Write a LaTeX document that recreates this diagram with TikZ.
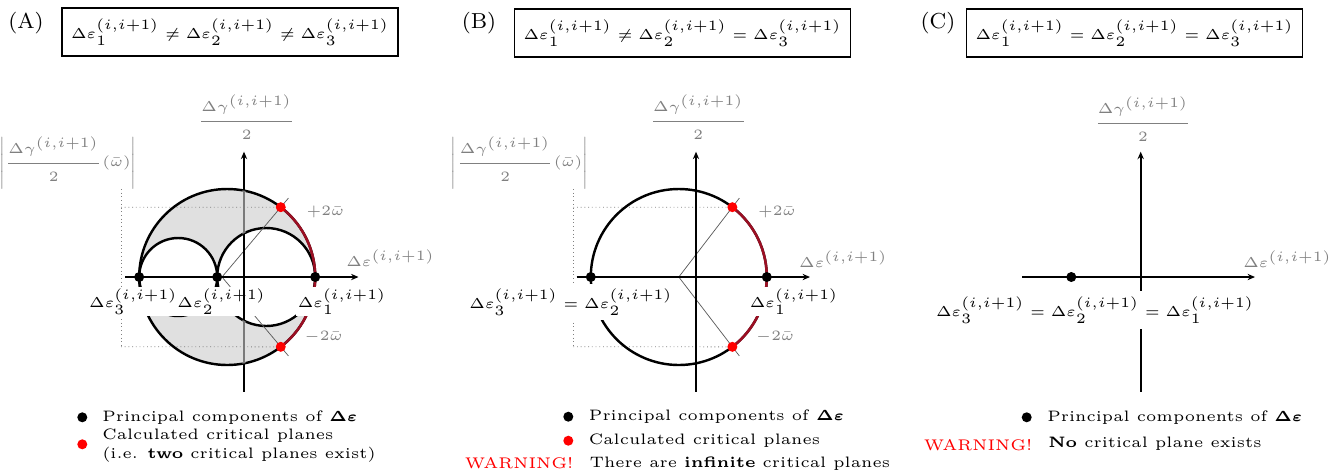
\documentclass[tikz,border=0pt]{standalone}
\usepackage{amsmath}
\usetikzlibrary{arrows.meta,calc}
\definecolor{arcred}{RGB}{155,15,35}
\definecolor{txtgray}{RGB}{128,128,128}
\definecolor{shadecol}{RGB}{224,224,224}
\DeclareMathSizes{5.3}{5.3}{5.3}{5.3}
\DeclareMathSizes{5.4}{5.4}{5.4}{5.4}
\newcommand{\DE}[1]{\Delta\varepsilon_{#1}^{(i,i+1)}}
\newcommand{\DGfrac}{\dfrac{\Delta\gamma^{(i,i+1)}}{2}}
\begin{document}
\begin{tikzpicture}[x=0.35pt,y=-0.35pt,
  every node/.style={font=\fontsize{5}{6.4}\selectfont, inner sep=0pt},
  axis/.style={line width=0.7pt, -{Stealth[length=2.6pt,width=2.2pt]}},
  mohr/.style={line width=0.85pt},
  redarc/.style={line width=0.9pt, draw=arcred},
  thinl/.style={line width=0.25pt, black!65},
  guide/.style={line width=0.3pt, gray, densely dotted},
  pdot/.style={circle, fill=black, minimum size=3.5pt, inner sep=0pt},
  cdot/.style={circle, fill=red, minimum size=3.5pt, inner sep=0pt},
  lbl/.style={fill=white, inner sep=0.6pt},
  glbl/.style={text=txtgray},
  eqbox/.style={draw, line width=0.55pt, minimum width=117.6pt, minimum height=16.8pt},
  panel/.style={font=\fontsize{7.6}{9}\selectfont},
  legend/.style={anchor=west, align=left, font=\fontsize{5.3}{6.5}\selectfont},
  warn/.style={text=red, anchor=east, font=\fontsize{5.4}{6.5}\selectfont}
]
\useasboundingbox (0,0) rectangle (1343,470);

% ---------- headers ----------
\node[panel] (pA) at (26,23) {(A)};
\node[panel] (pB) at (479,23) {(B)};
\node[panel] (pC) at (938,23) {(C)};
\node[eqbox] (bA) at (230,32) {$\DE1 \neq \DE2 \neq \DE3$};
\node[eqbox] (bB) at (682.5,33) {$\DE1 \neq \DE2 = \DE3$};
\node[eqbox] (bC) at (1134.5,33) {$\DE1 = \DE2 = \DE3$};

% ================= Panel A =================
\coordinate (cA) at (227.2,277);
\coordinate (sAL) at (178.2,277);
\coordinate (sAR) at (266.2,277);
\coordinate (oA) at (222,277);
\fill[shadecol, even odd rule] (cA) circle[radius=88] (sAL) circle[radius=39] (sAR) circle[radius=49];
\coordinate (rA1) at ($(cA)+(-52.5:88)$);
\coordinate (rA2) at ($(cA)+(52.5:88)$);
\coordinate (gA1) at (121,189);
\coordinate (gA2) at (121,207.2);
\coordinate (gA3) at (121,346.8);
\draw[guide] (gA1) -- (gA3);
\draw[guide] (gA2) -- (rA1);
\draw[guide] (gA3) -- (rA2);
\draw[mohr] (cA) circle[radius=88];
\draw[mohr] (sAL) circle[radius=39];
\draw[mohr] (sAR) circle[radius=49];
\draw[redarc] (rA1) arc[start angle=-52.5, end angle=52.5, radius=88];
\draw[thinl] (oA) -- ($(oA)!1.13!(rA1)$);
\draw[thinl] (oA) -- ($(oA)!1.13!(rA2)$);
\node[lbl] (l3A) at (133.3,301.5) {$\DE3$};
\node[lbl] (l2A) at (221.7,301.5) {$\DE2$};
\node[lbl] (l1A) at (342,301.5) {$\DE1$};
\coordinate (hAl) at (125,277); \coordinate (hAr) at (358.5,277);
\coordinate (vAb) at (244,391.7); \coordinate (vAt) at (244,151.7);
\draw[axis] (hAl) -- (hAr);
\draw[axis] (vAb) -- (vAt);
\begin{scope}
  \clip (242.3,150) rectangle (245.7,400);
  \fill[shadecol, even odd rule, fill opacity=0.55] (cA) circle[radius=88] (sAL) circle[radius=39] (sAR) circle[radius=49];
\end{scope}
\node[pdot] (e3A) at (139.2,277) {};
\node[pdot] (e2A) at (217.2,277) {};
\node[pdot] (e1A) at (315.2,277) {};
\node[cdot] (cpA1) at (rA1) {};
\node[cdot] (cpA2) at (rA2) {};
\node[glbl] (yA) at (246.7,117) {$\DGfrac$};
\node[glbl] (xA) at (390.5,258) {$\Delta\varepsilon^{(i,i+1)}$};
\node[glbl] (mA) at (68,163) {$\left|\DGfrac(\bar{\omega})\right|$};
\node[glbl] (pwA) at (325.5,212) {$+2\bar{\omega}$};
\node[glbl] (nwA) at (323.5,337) {$-2\bar{\omega}$};
% legend A
\node[pdot] (lgA1) at (82.3,417.3) {};
\node[legend] (tA1) at (101.7,417.3) {Principal components of $\boldsymbol{\Delta\varepsilon}$};
\node[cdot] (lgA2) at (82.3,444.3) {};
\node[legend] (tA2) at (101.7,445.8) {Calculated critical planes\\(i.e. \textbf{two} critical planes exist)};

% ================= Panel B =================
\coordinate (cB) at (678.8,277);
\coordinate (rB1) at ($(cB)+(-52.5:88)$);
\coordinate (rB2) at ($(cB)+(52.5:88)$);
\coordinate (gB1) at (573.3,189);
\coordinate (gB2) at (573.3,207.2);
\coordinate (gB3) at (573.3,346.8);
\draw[guide] (gB1) -- (gB3);
\draw[guide] (gB2) -- (rB1);
\draw[guide] (gB3) -- (rB2);
\draw[mohr] (cB) circle[radius=88];
\draw[redarc] (rB1) arc[start angle=-52.5, end angle=52.5, radius=88];
\draw[thinl] (cB) -- ($(cB)!1.13!(rB1)$);
\draw[thinl] (cB) -- ($(cB)!1.13!(rB2)$);
\node[lbl, inner ysep=1.6pt] (l32B) at (571,302) {$\DE3 = \DE2$};
\node[lbl] (l1B) at (794,301.5) {$\DE1$};
\coordinate (hBl) at (576.7,277); \coordinate (hBr) at (810,277);
\coordinate (vBb) at (696,391.7); \coordinate (vBt) at (696,151.7);
\draw[axis] (hBl) -- (hBr);
\draw[axis] (vBb) -- (vBt);
\node[pdot] (e3B) at (590.8,277) {};
\node[pdot] (e1B) at (766.8,277) {};
\node[cdot] (cpB1) at (rB1) {};
\node[cdot] (cpB2) at (rB2) {};
\node[glbl] (yB) at (698.3,117) {$\DGfrac$};
\node[glbl] (xB) at (843.3,259) {$\Delta\varepsilon^{(i,i+1)}$};
\node[glbl] (mB) at (519.5,163) {$\left|\DGfrac(\bar{\omega})\right|$};
\node[glbl] (pwB) at (777,212) {$+2\bar{\omega}$};
\node[glbl] (nwB) at (775,337) {$-2\bar{\omega}$};
% legend B
\node[pdot] (lgB1) at (568.3,416.7) {};
\node[legend] (tB1) at (588.3,416.7) {Principal components of $\boldsymbol{\Delta\varepsilon}$};
\node[cdot] (lgB2) at (568.3,440.7) {};
\node[legend] (tB2) at (588.3,440.7) {Calculated critical planes};
\node[warn] (wB) at (574,463.3) {WARNING!};
\node[legend] (tB3) at (589,463.3) {There are \textbf{infinite} critical planes};

% ================= Panel C =================
\coordinate (hCl) at (1022.3,277); \coordinate (hCr) at (1255,277);
\coordinate (vCb) at (1140.7,391.7); \coordinate (vCt) at (1140.7,151.7);
\draw[axis] (hCl) -- (hCr);
\draw[axis] (vCb) -- (vCt);
\node[lbl, inner ysep=2.2pt] (l321C) at (1095,310) {$\DE3 = \DE2 = \DE1$};
\node[pdot] (e3C) at (1071.3,277) {};
\node[glbl] (yC) at (1143,119) {$\DGfrac$};
\node[glbl] (xC) at (1287.5,259) {$\Delta\varepsilon^{(i,i+1)}$};
% legend C
\node[pdot] (lgC1) at (1026.7,417.3) {};
\node[legend] (tC1) at (1046.7,417.3) {Principal components of $\boldsymbol{\Delta\varepsilon}$};
\node[warn] (wC) at (1033,445) {WARNING!};
\node[legend] (tC2) at (1047.7,443.3) {\textbf{No} critical plane exists};
\end{tikzpicture}
\end{document}
